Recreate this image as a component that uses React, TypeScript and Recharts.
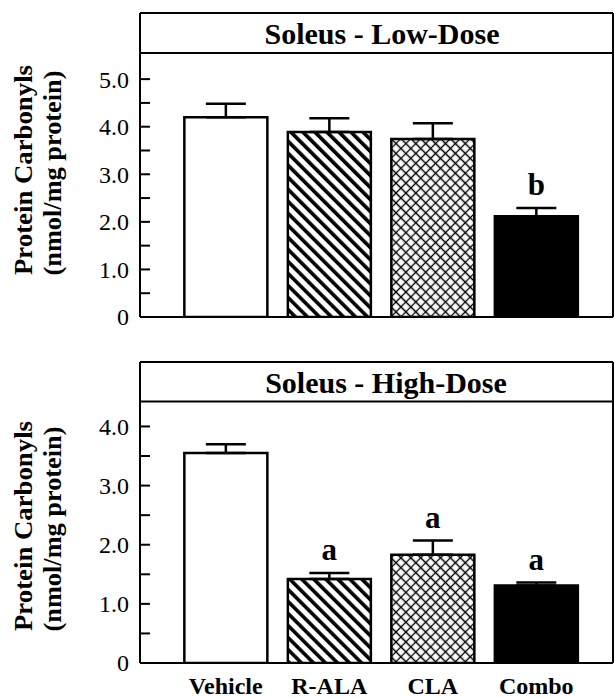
import React from 'react';
import {
  BarChart,
  Bar,
  XAxis,
  YAxis,
  ErrorBar,
  ReferenceLine,
  LabelList,
  Cell,
} from 'recharts';

// data
const groups = ['Vehicle', 'R-ALA', 'CLA', 'Combo'];

const lowDoseMean = [4.2, 3.89, 3.74, 2.12];
const lowDoseSem = [0.28, 0.29, 0.33, 0.17];
const lowDoseLetters = ['', '', '', 'b'];
const lowDoseTicks = [0, 0.5, 1, 1.5, 2, 2.5, 3, 3.5, 4, 4.5, 5];

const highDoseMean = [3.55, 1.42, 1.83, 1.31];
const highDoseSem = [0.15, 0.1, 0.24, 0.05];
const highDoseLetters = ['', 'a', 'a', 'a'];
const highDoseTicks = [0, 0.5, 1, 1.5, 2, 2.5, 3, 3.5, 4];

const FONT = '"Liberation Serif", "Times New Roman", Times, serif';
const fills = ['#ffffff', 'url(#stripes)', 'url(#crosshatch)', '#000000'];

type Row = { group: string; mean: number; sem: number; letter: string };

const makeRows = (mean: number[], sem: number[], letters: string[]): Row[] =>
  groups.map((g, i) => ({ group: g, mean: mean[i], sem: sem[i], letter: letters[i] }));

const lowRows = makeRows(lowDoseMean, lowDoseSem, lowDoseLetters);
const highRows = makeRows(highDoseMean, highDoseSem, highDoseLetters);

function Patterns() {
  return (
    <svg width={0} height={0} style={{ position: 'absolute' }}>
      <defs>
        <pattern id="stripes" patternUnits="userSpaceOnUse" width={8.5} height={8.5} patternTransform="rotate(-45)">
          <rect x={0} y={0} width={8.5} height={8.5} fill="#fff" />
          <rect x={0} y={0} width={3.6} height={8.5} fill="#000" />
        </pattern>
        <pattern id="crosshatch" patternUnits="userSpaceOnUse" width={7} height={7} patternTransform="rotate(45)">
          <rect x={0} y={0} width={7} height={7} fill="#fff" />
          <path d="M0 3.5 H7 M3.5 0 V7" stroke="#000" strokeWidth={1.3} />
        </pattern>
      </defs>
    </svg>
  );
}

const YTick = (props: any) => {
  const { x, y, payload } = props;
  const v = payload.value;
  const major = Number.isInteger(v);
  return (
    <g>
      <line x1={x + 11} x2={x + 21} y1={y} y2={y} stroke="#000" strokeWidth={2} />
      {major && (
        <text x={x} y={y} dy="0.35em" textAnchor="end" fontSize={24} fontFamily={FONT} fill="#000">
          {v === 0 ? '0' : v.toFixed(1)}
        </text>
      )}
    </g>
  );
};

const yLabel = (cy: number) => () => (
  <g fontFamily={FONT} fontWeight="bold" fontSize={26} fill="#000">
    <text x={32} y={cy} transform={`rotate(-90 32 ${cy})`} textAnchor="middle" textLength={210} lengthAdjust="spacingAndGlyphs">
      Protein Carbonyls
    </text>
    <text x={61} y={cy + 3} transform={`rotate(-90 61 ${cy + 3})`} textAnchor="middle" textLength={205} lengthAdjust="spacingAndGlyphs">
      (nmol/mg protein)
    </text>
  </g>
);

const titleLabel = (text: string, x: number, y: number) => () => (
  <text x={x} y={y} dy="0.35em" textAnchor="middle" fontSize={30} fontWeight="bold" fontFamily={FONT} fill="#000">
    {text}
  </text>
);

const letterLabel = (rows: Row[]) => (props: any) => {
  const vb = props.viewBox || props;
  const { x, y, width, height } = vb;
  const r = rows[props.index];
  if (!r || !r.letter) return null;
  const ppu = height / r.mean;
  const ty = y - r.sem * ppu - 13;
  return (
    <text x={x + width / 2} y={ty} textAnchor="middle" fontSize={31} fontWeight="bold" fontFamily={FONT} fill="#000">
      {r.letter}
    </text>
  );
};

type PanelProps = {
  rows: Row[];
  ticks: number[];
  yMax: number;
  bandY: number;
  title: string;
  titleX: number;
  titleY: number;
  labelY: number;
  height: number;
  marginTop: number;
  axisHeight: number;
  showNames: boolean;
};

function Panel(p: PanelProps) {
  return (
    <BarChart
      width={614}
      height={p.height}
      data={p.rows}
      margin={{ top: p.marginTop, right: 0, bottom: 0, left: 0 }}
      barCategoryGap="10%"
    >
      <XAxis
        dataKey="group"
        height={p.axisHeight}
        padding={{ left: 34, right: 25 }}
        axisLine={{ stroke: '#000', strokeWidth: 2 }}
        tickLine={false}
        tickSize={0}
        tickMargin={14}
        tick={p.showNames ? { fontSize: 24, fontWeight: 'bold', fontFamily: FONT, fill: '#000' } : false}
        interval={0}
      />
      <YAxis
        width={140}
        domain={[0, p.yMax]}
        ticks={p.ticks}
        interval={0}
        allowDataOverflow
        axisLine={{ stroke: '#000', strokeWidth: 2 }}
        tickLine={false}
        tickSize={0}
        tickMargin={11}
        tick={YTick}
        label={{ content: yLabel(p.labelY) }}
      />
      <YAxis
        yAxisId="right"
        orientation="right"
        width={1}
        domain={[0, p.yMax]}
        tick={false}
        tickLine={false}
        axisLine={{ stroke: '#000', strokeWidth: 2 }}
      />
      <ReferenceLine y={p.yMax} stroke="#000" strokeWidth={2} />
      <ReferenceLine
        y={p.bandY}
        stroke="#000"
        strokeWidth={2}
        label={{ content: titleLabel(p.title, p.titleX, p.titleY) }}
      />
      <Bar dataKey="mean" stroke="#000" strokeWidth={2.5} isAnimationActive={false}>
        {p.rows.map((r, i) => (
          <Cell key={r.group} fill={fills[i]} />
        ))}
        <ErrorBar
          dataKey={(d: Row) => [0, d.sem]}
          width={20}
          stroke="#000"
          strokeWidth={2.5}
          direction="y"
        />
        <LabelList dataKey="letter" content={letterLabel(p.rows)} />
      </Bar>
    </BarChart>
  );
}

export default function App() {
  return (
    <div
      style={{
        position: 'absolute',
        left: 0,
        top: 0,
        width: 614,
        height: 698,
        overflow: 'hidden',
        background: '#fff',
      }}
    >
      <Patterns />
      <div style={{ position: 'absolute', left: 0, top: 0 }}>
        <Panel
          rows={lowRows}
          ticks={lowDoseTicks}
          yMax={6.39}
          bandY={5.55}
          title="Soleus - Low-Dose"
          titleX={382}
          titleY={33}
          labelY={170}
          height={340}
          marginTop={13}
          axisHeight={23}
          showNames={false}
        />
      </div>
      <div style={{ position: 'absolute', left: 0, top: 340 }}>
        <Panel
          rows={highRows}
          ticks={highDoseTicks}
          yMax={5.09}
          bandY={4.42}
          title="Soleus - High-Dose"
          titleX={386}
          titleY={42}
          labelY={186}
          height={358}
          marginTop={22}
          axisHeight={35}
          showNames={true}
        />
      </div>
    </div>
  );
}
